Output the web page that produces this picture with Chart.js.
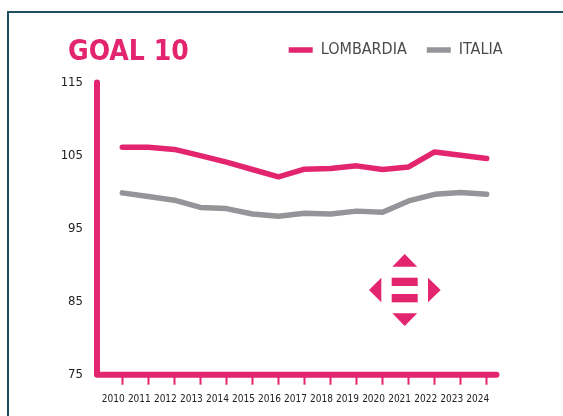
<!DOCTYPE html>
<html>
<head>
<meta charset="utf-8">
<script src="https://cdn.jsdelivr.net/npm/chart.js@4"></script>
<style>
  html, body { margin: 0; padding: 0; background: #fff; overflow: hidden; }
  #wrap { position: relative; width: 563px; height: 416px; }
  #frame { position: absolute; left: 7px; top: 11px; right: 0; bottom: 0; border-left: 2px solid #1f4e63; border-top: 2px solid #1f4e63; }
  #icon { position: absolute; left: 0; top: 0; }
  canvas { position: absolute; left: 0; top: 0; }
</style>
</head>
<body>
<div id="wrap">
  <div id="frame"></div>
  <canvas id="goalChart" width="563" height="416"></canvas>
  <svg id="icon" width="563" height="416" fill="#e3246f">
    <polygon points="404.7,254 392.3,266.7 417.2,266.7"/>
    <polygon points="404.7,326 392.3,313.3 417.2,313.3"/>
    <polygon points="369,290 381.3,277.7 381.3,302.3"/>
    <polygon points="440.7,290 428,277.7 428,302.3"/>
    <rect x="391.7" y="277.7" width="26" height="8.3"/>
    <rect x="391.7" y="294" width="26" height="8.3"/>
  </svg>
</div>
<script>
// Values
const years = [2010, 2011, 2012, 2013, 2014, 2015, 2016, 2017, 2018, 2019, 2020, 2021, 2022, 2023, 2024];
const lombardia = [106.15, 106.15, 105.85, 105.0, 104.1, 103.1, 102.1, 103.15, 103.25, 103.6, 103.1, 103.45, 105.5, 105.05, 104.6];
const italia = [99.9, 99.4, 98.9, 97.9, 97.75, 97.0, 96.7, 97.1, 97.0, 97.4, 97.25, 98.8, 99.7, 99.95, 99.7];
const yTicks = [75, 85, 95, 105, 115];

const PINK = '#e3246f';
const GREY = '#939598';
const FONT = '"DejaVu Sans Condensed", "DejaVu Sans", sans-serif';

// Axis lines with round ends, and title/legend moved to their spots in the header
const headerAndAxes = {
  id: 'headerAndAxes',
  afterLayout(chart) {
    chart.titleBlock.left = 68;
    chart.legend.top = 22;
    chart.legend.right += 26;
  },
  beforeDatasetsDraw(chart) {
    const { ctx, chartArea: a } = chart;
    ctx.save();
    ctx.strokeStyle = PINK;
    ctx.lineWidth = 6;
    ctx.lineCap = 'round';
    ctx.lineJoin = 'round';
    ctx.beginPath();
    ctx.moveTo(a.left, a.top);
    ctx.lineTo(a.left, a.bottom);
    ctx.lineTo(a.right, a.bottom);
    ctx.stroke();
    ctx.restore();
  }
};

new Chart(document.getElementById('goalChart').getContext('2d'), {
  type: 'line',
  plugins: [headerAndAxes],
  data: {
    labels: years,
    datasets: [
      { label: 'LOMBARDIA', data: lombardia, borderColor: PINK, backgroundColor: PINK, borderWidth: 5.5, pointRadius: 0, tension: 0, borderCapStyle: 'round', borderJoinStyle: 'round' },
      { label: 'ITALIA', data: italia, borderColor: GREY, backgroundColor: GREY, borderWidth: 5.5, pointRadius: 0, tension: 0, borderCapStyle: 'round', borderJoinStyle: 'round' }
    ]
  },
  options: {
    responsive: false,
    animation: false,
    layout: { padding: { left: 0, right: 66.5, top: 0, bottom: 0 } },
    plugins: {
      tooltip: { enabled: false },
      title: {
        display: true,
        text: 'GOAL 10',
        align: 'start',
        color: PINK,
        font: { family: FONT, size: 28, weight: 'bold', lineHeight: 1.2 },
        padding: { top: 36, bottom: -33 }
      },
      legend: {
        display: true,
        position: 'top',
        align: 'end',
        labels: {
          usePointStyle: true,
          pointStyle: 'line',
          pointStyleWidth: 24,
          boxHeight: 14,
          padding: 20,
          color: '#4a4a4a',
          font: { family: FONT, size: 16 }
        }
      }
    },
    scales: {
      x: {
        type: 'linear',
        min: 2009.028,
        max: 2024.376,
        afterBuildTicks(scale) { scale.ticks = years.map(v => ({ value: v })); },
        afterFit(scale) { scale.height = 41.3; },
        border: { display: false },
        grid: { drawOnChartArea: false, drawTicks: true, tickLength: 10, tickWidth: 2, tickColor: PINK },
        ticks: {
          autoSkip: false,
          maxRotation: 0,
          padding: 9,
          labelOffset: -9,
          color: '#222',
          font: { family: FONT, size: 10 },
          callback: v => String(v)
        }
      },
      y: {
        min: 75,
        max: 115,
        afterBuildTicks(scale) { scale.ticks = yTicks.map(v => ({ value: v })); },
        afterFit(scale) { scale.width = 97; },
        border: { display: false },
        grid: { display: false },
        ticks: {
          padding: 6,
          color: '#222',
          font: { family: FONT, size: 13 }
        }
      }
    }
  }
});
</script>
</body>
</html>
